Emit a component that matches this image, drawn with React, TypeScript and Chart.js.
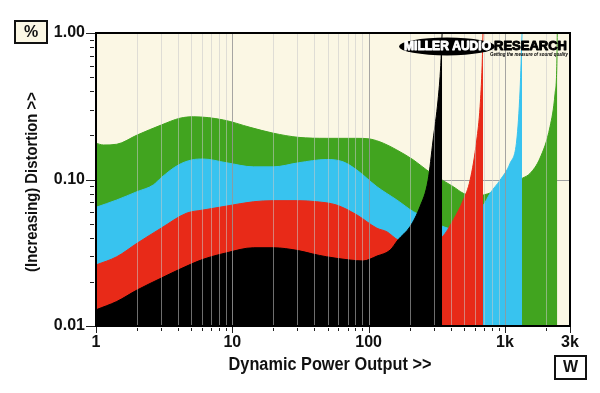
import React, { useEffect, useRef } from 'react';
import { Chart, registerables } from 'chart.js';

Chart.register(...registerables);

// ---- Axis ticks / labels ----
const xTickValues = [1, 10, 100, 1000, 3000];
const xTickLabels = ['1', '10', '100', '1k', '3k'];
const yTickValues = [0.01, 0.1, 1];
const yTickLabels = ['0.01', '0.10', '1.00'];
const xMinorValues = [2, 3, 4, 5, 6, 7, 8, 9, 10, 20, 30, 40, 50, 60, 70, 80, 90, 100, 200, 300, 400, 500, 600, 700, 800, 900, 1000, 2000];
const xDecadeValues = [10, 100, 1000];
const yMinorValues = [0.02, 0.03, 0.04, 0.05, 0.06, 0.07, 0.08, 0.09, 0.2, 0.3, 0.4, 0.5, 0.6, 0.7, 0.8, 0.9];
const yGridValues = [0.1];

const xTitle = 'Dynamic Power Output >>';
const yTitle = '(Increasing) Distortion >>';
const yUnit = '%';
const xUnit = 'W';
const logoLeft = 'MILLER AUDIO';
const logoRight = 'RESEARCH';
const logoTagline = 'Getting the measure of sound quality';

// ---- Series (power in W, distortion in %) ----
const blackPowerW = [1, 1.42, 2, 3, 4, 6.1, 9.1, 14.3, 20, 30.5, 39, 49, 73, 91, 115, 144, 164, 201, 238, 273, 297, 323, 338, 346];
const blackDistortion = [0.0129, 0.0147, 0.0176, 0.0212, 0.0241, 0.0285, 0.0316, 0.0342, 0.0342, 0.0327, 0.031, 0.0297, 0.0282, 0.0278, 0.030, 0.033, 0.0387, 0.0476, 0.0652, 0.099, 0.186, 0.349, 0.6, 1.0];

const redPowerW = [1, 1.42, 2, 3, 4.6, 6.1, 9.1, 14.3, 20, 30.5, 41.6, 58, 82, 115, 136, 164, 220, 300, 347, 418, 495, 555, 621, 657, 680, 690];
const redDistortion = [0.0261, 0.0297, 0.0367, 0.0465, 0.0588, 0.0619, 0.0659, 0.0705, 0.0717, 0.0717, 0.0705, 0.067, 0.0573, 0.0465, 0.044, 0.0387, 0.037, 0.039, 0.0407, 0.053, 0.0724, 0.099, 0.186, 0.314, 0.6, 1.0];

const bluePowerW = [1, 1.42, 2, 2.63, 3.03, 4.02, 5.04, 6.12, 9.1, 14.3, 20, 30.5, 49.3, 65, 82, 115, 161, 213, 260, 300, 347, 420, 500, 600, 695, 778, 921, 1090, 1221, 1291, 1335];
const blueDistortion = [0.0646, 0.0725, 0.0826, 0.0917, 0.1035, 0.1256, 0.136, 0.138, 0.130, 0.122, 0.122, 0.130, 0.137, 0.132, 0.116, 0.0893, 0.0725, 0.0603, 0.055, 0.052, 0.048, 0.046, 0.053, 0.06, 0.067, 0.0805, 0.099, 0.129, 0.186, 0.408, 1.0];

const greenPowerW = [1, 1.13, 1.42, 2, 3.03, 4.13, 5.17, 8.6, 13.5, 20, 30.5, 49.3, 82, 102, 128, 161, 213, 267, 347, 418, 495, 600, 695, 900, 1100, 1342, 1528, 1808, 2141, 2332, 2400, 2420];
const greenDistortion = [0.177, 0.172, 0.174, 0.201, 0.236, 0.262, 0.268, 0.255, 0.227, 0.207, 0.194, 0.191, 0.191, 0.189, 0.177, 0.159, 0.136, 0.116, 0.099, 0.0893, 0.0805, 0.077, 0.0784, 0.085, 0.093, 0.102, 0.110, 0.140, 0.229, 0.388, 0.589, 1.0];

const FONT = '"Liberation Sans", Arial, Helvetica, sans-serif';
const CREAM = '#fbf7e4';

function pts(xs: number[], ys: number[]) {
  return xs.map((x, i) => ({ x, y: ys[i] }));
}

function fittedFont(ctx: CanvasRenderingContext2D, text: string, width: number, style: string) {
  ctx.font = `${style} 100px ${FONT}`;
  const w = ctx.measureText(text).width;
  const size = (100 * width) / w;
  return `${style} ${size}px ${FONT}`;
}

function drawScaledText(ctx: CanvasRenderingContext2D, text: string, x: number, y: number, width: number, font: string, stroke = 0) {
  ctx.font = font;
  const w = ctx.measureText(text).width;
  ctx.save();
  ctx.translate(x, y);
  ctx.scale(width / w, 1);
  ctx.textAlign = 'left';
  ctx.textBaseline = 'alphabetic';
  ctx.fillText(text, 0, 0);
  if (stroke > 0) {
    ctx.lineWidth = stroke;
    ctx.lineJoin = 'round';
    ctx.strokeText(text, 0, 0);
  }
  ctx.restore();
}

const framePlugin = {
  id: 'framePlugin',
  beforeDraw(chart: any) {
    const { ctx, chartArea } = chart;
    ctx.save();
    ctx.fillStyle = '#ffffff';
    ctx.fillRect(0, 0, chart.width, chart.height);
    ctx.fillStyle = CREAM;
    ctx.fillRect(chartArea.left, chartArea.top, chartArea.right - chartArea.left, chartArea.bottom - chartArea.top);
    ctx.restore();
  },
  beforeDatasetsDraw(chart: any) {
    const { ctx, chartArea, scales } = chart;
    ctx.save();
    ctx.strokeStyle = '#a0a0a0';
    ctx.lineWidth = 1;
    yGridValues.forEach((v) => {
      const py = Math.round(scales.y.getPixelForValue(v)) + 0.5;
      ctx.beginPath();
      ctx.moveTo(chartArea.left, py);
      ctx.lineTo(chartArea.right, py);
      ctx.stroke();
    });
    ctx.restore();
  },
  afterDatasetsDraw(chart: any) {
    const { ctx, chartArea, scales } = chart;
    const { left, right, top, bottom } = chartArea;
    ctx.save();
    // vertical grid drawn over the fills
    xMinorValues.forEach((v) => {
      const px = Math.round(scales.x.getPixelForValue(v)) + 0.5;
      ctx.strokeStyle = xDecadeValues.includes(v) ? 'rgba(150,150,150,0.85)' : 'rgba(200,200,200,0.55)';
      ctx.lineWidth = 1;
      ctx.beginPath();
      ctx.moveTo(px, top);
      ctx.lineTo(px, bottom);
      ctx.stroke();
    });
    // frame
    ctx.strokeStyle = '#000';
    ctx.lineWidth = 2;
    ctx.strokeRect(left, top, right - left, bottom - top);
    // ticks
    ctx.lineWidth = 1;
    ctx.strokeStyle = '#222';
    yMinorValues.forEach((v) => {
      const py = Math.round(scales.y.getPixelForValue(v)) + 0.5;
      ctx.beginPath();
      ctx.moveTo(left - 6, py);
      ctx.lineTo(left - 2, py);
      ctx.stroke();
    });
    yTickValues.forEach((v) => {
      const py = Math.round(scales.y.getPixelForValue(v)) + 0.5;
      ctx.beginPath();
      ctx.moveTo(left - 10, py);
      ctx.lineTo(left - 1, py);
      ctx.stroke();
    });
    xMinorValues.forEach((v) => {
      const px = Math.round(scales.x.getPixelForValue(v)) + 0.5;
      ctx.beginPath();
      ctx.moveTo(px, bottom + 2);
      ctx.lineTo(px, bottom + 5);
      ctx.stroke();
    });
    xTickValues.forEach((v) => {
      const px = Math.round(scales.x.getPixelForValue(v)) + 0.5;
      ctx.beginPath();
      ctx.moveTo(px, bottom + 1);
      ctx.lineTo(px, bottom + 7);
      ctx.stroke();
    });
    // logo
    ctx.fillStyle = '#000';
    ctx.beginPath();
    ctx.ellipse(447, 46.5, 48, 9, 0, 0, Math.PI * 2);
    ctx.fill();
    ctx.fillStyle = '#fff';
    ctx.strokeStyle = '#fff';
    drawScaledText(ctx, logoLeft, 404, 49.5, 87, `900 12px ${FONT}`, 0.9);
    ctx.fillStyle = '#000';
    ctx.strokeStyle = '#000';
    drawScaledText(ctx, logoRight, 494, 49.5, 73, `900 12px ${FONT}`, 0.9);
    drawScaledText(ctx, logoTagline, 490, 55.5, 78, `italic bold 5px ${FONT}`);
    ctx.restore();
  },
  afterDraw(chart: any) {
    const { ctx } = chart;
    ctx.save();
    ctx.fillStyle = '#111';
    // x title
    ctx.save();
    ctx.translate(330, 370);
    ctx.scale(1, 1.08);
    ctx.font = fittedFont(ctx, xTitle, 203, 'bold');
    ctx.textAlign = 'center';
    ctx.textBaseline = 'alphabetic';
    ctx.fillText(xTitle, 0, 0);
    ctx.restore();
    // y title
    ctx.save();
    ctx.translate(37, 182);
    ctx.rotate(-Math.PI / 2);
    ctx.scale(1, 1.08);
    ctx.font = fittedFont(ctx, yTitle, 180, 'bold');
    ctx.textAlign = 'center';
    ctx.fillText(yTitle, 0, 0);
    ctx.restore();
    // unit boxes
    ctx.fillStyle = CREAM;
    ctx.strokeStyle = '#111';
    ctx.lineWidth = 2;
    ctx.fillRect(15, 21, 32, 22);
    ctx.strokeRect(15, 21, 32, 22);
    ctx.fillStyle = '#fff';
    ctx.fillRect(555, 356, 31, 23);
    ctx.strokeRect(555, 356, 31, 23);
    ctx.fillStyle = '#111';
    ctx.font = `bold 16px ${FONT}`;
    ctx.textAlign = 'center';
    ctx.textBaseline = 'middle';
    ctx.fillText(yUnit, 31, 32.5);
    ctx.fillText(xUnit, 570.5, 368);
    ctx.restore();
  },
};

export default function App() {
  const canvasRef = useRef<HTMLCanvasElement | null>(null);

  useEffect(() => {
    const canvas = canvasRef.current;
    if (!canvas) return;
    const mk = (label: string, xs: number[], ys: number[], color: string) => ({
      label,
      data: pts(xs, ys),
      fill: 'start',
      backgroundColor: color,
      borderColor: color,
      borderWidth: 1,
      pointRadius: 0,
      cubicInterpolationMode: 'monotone',
    });
    const chart = new Chart(canvas, {
      type: 'line',
      data: {
        datasets: [
          mk('Black', blackPowerW, blackDistortion, '#000000'),
          mk('Red', redPowerW, redDistortion, '#e82a18'),
          mk('Blue', bluePowerW, blueDistortion, '#38c3ef'),
          mk('Green', greenPowerW, greenDistortion, '#41a41f'),
        ] as any,
      },
      options: {
        animation: false,
        responsive: false,
        devicePixelRatio: 1,
        layout: { padding: { left: 0, top: 33, right: 30, bottom: 0 } },
        plugins: { legend: { display: false }, tooltip: { enabled: false } },
        scales: {
          x: {
            type: 'logarithmic',
            min: 1,
            max: 3000,
            afterBuildTicks: (s: any) => {
              s.ticks = xTickValues.map((v) => ({ value: v }));
            },
            afterFit: (s: any) => {
              s.height = 67;
            },
            grid: { display: false, drawTicks: false },
            border: { display: false },
            ticks: {
              autoSkip: false,
              maxRotation: 0,
              minRotation: 0,
              padding: 7,
              color: '#111',
              font: { family: FONT, size: 16, weight: 'bold' },
              callback: (_v: any, i: number) => xTickLabels[i],
            },
          },
          y: {
            type: 'logarithmic',
            min: 0.01,
            max: 1,
            afterBuildTicks: (s: any) => {
              s.ticks = yTickValues.map((v) => ({ value: v }));
            },
            afterFit: (s: any) => {
              s.width = 96;
            },
            grid: { display: false, drawTicks: false },
            border: { display: false },
            ticks: {
              autoSkip: false,
              padding: 11,
              color: '#111',
              font: { family: FONT, size: 16, weight: 'bold' },
              callback: (_v: any, i: number) => yTickLabels[i],
            },
          },
        },
      } as any,
      plugins: [framePlugin],
    });
    return () => chart.destroy();
  }, []);

  return (
    <div style={{ position: 'absolute', left: 0, top: 0, width: 600, height: 393, background: '#fff' }}>
      <canvas ref={canvasRef} width={600} height={393} style={{ display: 'block', width: 600, height: 393 }} />
    </div>
  );
}
